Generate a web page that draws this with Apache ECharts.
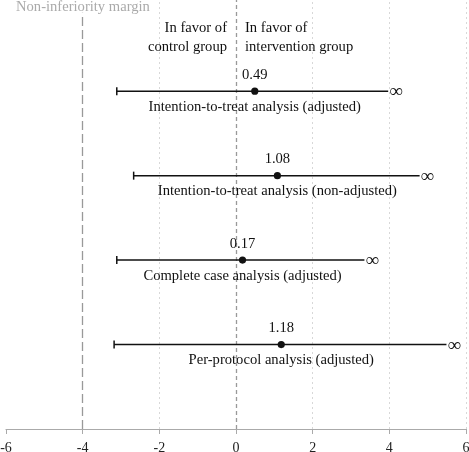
<!DOCTYPE html>
<html>
<head>
<meta charset="utf-8">
<script src="https://cdn.jsdelivr.net/npm/echarts@6/dist/echarts.min.js"></script>
<style>
  html, body { margin: 0; padding: 0; background: #fff; }
  #cus_chart { width: 469px; height: 452px; }
</style>
</head>
<body>
<div id="cus_chart"></div>
<script>
// analyses, top to bottom
var analyses = [
  'Intention-to-treat analysis (adjusted)',
  'Intention-to-treat analysis (non-adjusted)',
  'Complete case analysis (adjusted)',
  'Per-protocol analysis (adjusted)'
];
var rowPos = [4, 3, 2, 1];
var estimates = [0.49, 1.08, 0.17, 1.18];
var lowerBounds = [-3.11, -2.67, -3.11, -3.18];
// line drawn up to here, then the infinity sign
var upperShown = [3.97, 4.79, 3.35, 5.49];
var xTicks = [-6, -4, -2, 0, 2, 4, 6];
var gridTicks = [-2, 2, 4, 6];
var marginValue = -4;

var serif = 'Liberation Serif';
var fs = '14.6px ';
var myChart = echarts.init(document.getElementById('cus_chart'));

var rows = analyses.map(function (name, i) {
  return [rowPos[i], estimates[i], lowerBounds[i], upperShown[i], name];
});

function renderRow(params, api) {
  var y = api.value(0);
  var est = api.coord([api.value(1), y]);
  var lo = api.coord([api.value(2), y]);
  var hi = api.coord([api.value(3), y]);
  var stroke = { stroke: '#111', lineWidth: 1.5 };
  return {
    type: 'group',
    children: [
      { type: 'line', shape: { x1: lo[0], y1: lo[1], x2: hi[0], y2: hi[1] }, style: stroke },
      { type: 'line', shape: { x1: lo[0], y1: lo[1] - 4, x2: lo[0], y2: lo[1] + 4 }, style: stroke },
      { type: 'circle', shape: { cx: est[0], cy: est[1], r: 3.6 }, style: { fill: '#111' } },
      { type: 'text', x: hi[0] + 1, y: hi[1] + 1,
        style: { text: '\u221E', fill: '#111', font: '19px ' + serif, align: 'left', verticalAlign: 'middle' } },
      { type: 'text', x: est[0], y: est[1] - 16,
        style: { text: api.value(1).toFixed(2), fill: '#111', font: fs + serif, align: 'center', verticalAlign: 'middle' } },
      { type: 'text', x: est[0], y: est[1] + 16,
        style: { text: analyses[params.dataIndex], fill: '#111', font: fs + serif, align: 'center', verticalAlign: 'middle' } }
    ]
  };
}

var gridLines = gridTicks.map(function (v) {
  return [{ coord: [v, 0], lineStyle: { color: '#d8d8d8', type: [2, 3], width: 1 } }, { coord: [v, 5.08] }];
});

var options = {
  animation: false,
  grid: { left: 6, right: 3, top: 0, bottom: 23, containLabel: false, outerBoundsMode: 'none' },
  xAxis: {
    type: 'value',
    min: -6,
    max: 6,
    interval: 2,
    axisLine: { lineStyle: { color: '#aaa', width: 1.2 } },
    axisTick: { show: true, length: 5, lineStyle: { color: '#aaa' } },
    axisLabel: { color: '#222', fontFamily: serif, fontSize: 14, margin: 12,
      formatter: function (v) { return xTicks.indexOf(v) >= 0 ? String(v) : ''; } },
    splitLine: { show: false }
  },
  yAxis: {
    type: 'value',
    min: 0,
    max: 5.08,
    show: false,
    splitLine: { show: false }
  },
  series: [
    {
      type: 'custom',
      renderItem: renderRow,
      data: rows,
      z: 5,
      markLine: {
        silent: true,
        symbol: 'none',
        label: { show: false },
        data: gridLines.concat([
          [{ coord: [marginValue, 0], lineStyle: { color: '#999', type: [9, 4], width: 1.3 } },
           { coord: [marginValue, 4.93] }],
          [{ coord: [0, 0], lineStyle: { color: '#999', type: [4, 3], width: 1.3 } },
           { coord: [0, 5.08] }]
        ])
      }
    }
  ],
  graphic: [
    { type: 'text', x: 16, y: 7,
      style: { text: 'Non-inferiority margin', fill: '#aaa', font: fs + serif, align: 'left', verticalAlign: 'middle' } },
    { type: 'text', x: 227, y: 38,
      style: { text: 'In favor of\ncontrol group', fill: '#111', font: fs + serif, align: 'right', verticalAlign: 'middle', lineHeight: 19 } },
    { type: 'text', x: 245, y: 38,
      style: { text: 'In favor of\nintervention group', fill: '#111', font: fs + serif, align: 'left', verticalAlign: 'middle', lineHeight: 19 } }
  ]
};

myChart.setOption(options, true);
</script>
</body>
</html>
